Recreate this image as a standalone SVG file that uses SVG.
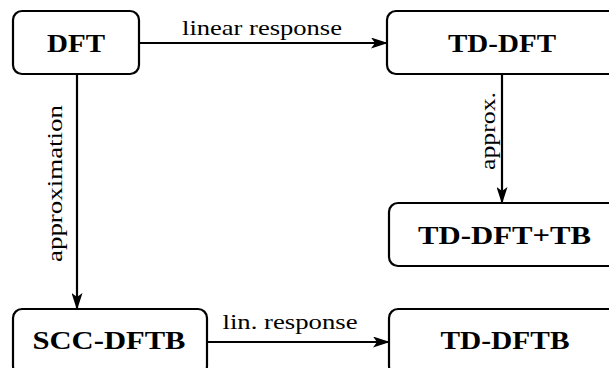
<svg xmlns="http://www.w3.org/2000/svg" width="609" height="368" viewBox="0 0 609 368">
<style>
.box{fill:#fff;stroke:#000;stroke-width:2.2}
.nt{font-family:"Liberation Serif","DejaVu Serif",serif;font-weight:bold;font-size:26px;text-anchor:middle;fill:#000}
.lbl{font-family:"Liberation Serif","DejaVu Serif",serif;font-size:21px;text-anchor:middle;fill:#000}
.edge{stroke:#000;stroke-width:2.2;fill:none;marker-end:url(#arr)}
</style>
<defs>
<marker id="arr" markerUnits="userSpaceOnUse" viewBox="0 0 17 11" refX="16" refY="5.5" markerWidth="17" markerHeight="11" orient="auto">
<path d="M0,0 L17,5.5 L0,11 L4,5.5 Z" fill="#000"/>
</marker>
</defs>
<g id="connectors">
<line class="edge" x1="139" y1="43" x2="387" y2="43"/>
<line class="edge" x1="207" y1="342" x2="389" y2="342"/>
<line class="edge" x1="77" y1="74" x2="77" y2="309"/>
<line class="edge" x1="502" y1="74" x2="502" y2="203"/>
<text class="lbl" x="262" y="35" textLength="160" lengthAdjust="spacingAndGlyphs">linear response</text>
<text class="lbl" x="290" y="329" textLength="135" lengthAdjust="spacingAndGlyphs">lin. response</text>
<text class="lbl" transform="translate(62,183.5) rotate(-90)" x="0" y="0" textLength="157" lengthAdjust="spacingAndGlyphs">approximation</text>
<text class="lbl" transform="translate(495,131) rotate(-90)" x="0" y="0" textLength="78" lengthAdjust="spacingAndGlyphs">approx.</text>
</g>
<g id="dft">
<rect class="box" x="13" y="11" width="126" height="63" rx="9"/>
<text class="nt" x="76" y="52" textLength="58" lengthAdjust="spacingAndGlyphs">DFT</text>
</g>
<g id="tddft">
<rect class="box" x="387" y="11" width="232" height="63" rx="9"/>
<text class="nt" x="502" y="52" textLength="108" lengthAdjust="spacingAndGlyphs">TD-DFT</text>
</g>
<g id="tddfttb">
<rect class="box" x="389" y="203" width="232" height="63" rx="9"/>
<text class="nt" x="504.5" y="244" textLength="173" lengthAdjust="spacingAndGlyphs">TD-DFT+TB</text>
</g>
<g id="sccdftb">
<rect class="box" x="13" y="309" width="194" height="66" rx="9"/>
<text class="nt" x="109" y="349" textLength="153" lengthAdjust="spacingAndGlyphs">SCC-DFTB</text>
</g>
<g id="tddftb">
<rect class="box" x="389" y="309" width="232" height="66" rx="9"/>
<text class="nt" x="505" y="349" textLength="129" lengthAdjust="spacingAndGlyphs">TD-DFTB</text>
</g>
</svg>
